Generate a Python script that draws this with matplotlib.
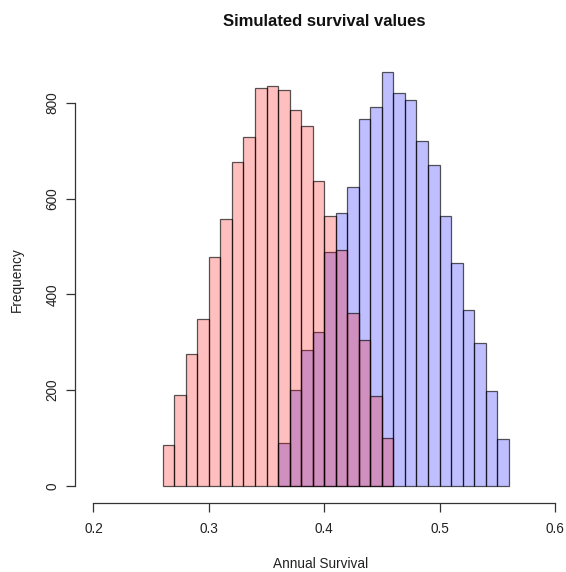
import numpy as np
import matplotlib
matplotlib.use("Agg")
import matplotlib.pyplot as plt

plt.rcParams['font.family'] = ['Liberation Sans', 'DejaVu Sans']

# bin edges (width 0.01)
red_edges = np.round(np.arange(0.26, 0.4601, 0.01), 2)
blue_edges = np.round(np.arange(0.36, 0.5601, 0.01), 2)

# counts per bin
red_counts = [85, 189, 276, 348, 478, 558, 676, 729, 831, 836,
              828, 786, 751, 637, 563, 492, 361, 305, 188, 100]
blue_counts = [89, 200, 284, 322, 489, 571, 624, 766, 792, 864,
               821, 807, 721, 671, 563, 465, 368, 299, 198, 98]

x_ticks = [0.2, 0.3, 0.4, 0.5, 0.6]
y_ticks = [0, 200, 400, 600, 800]

W, H = 566, 572
fig = plt.figure(figsize=(W / 100, H / 100), dpi=100)

# plot region in pixels (R style, axis lines on region edge)
left, right, top, bottom = 75, 573.4, 55.8, 502.5
ax = fig.add_axes([left / W, 1 - bottom / H, (right - left) / W, (bottom - top) / H])

edge = (0, 0, 0, 0.65)
ax.bar(blue_edges[:-1], blue_counts, width=0.01, align='edge',
       color=(0, 0, 1, 0.25), edgecolor=edge, linewidth=0.9)
ax.bar(red_edges[:-1], red_counts, width=0.01, align='edge',
       color=(1, 0, 0, 0.25), edgecolor=edge, linewidth=0.9)

ymax = max(max(red_counts), max(blue_counts))
ax.set_xlim(0.184, 0.616)
ax.set_ylim(-0.04 * ymax, 1.04 * ymax)

for s in ['top', 'right']:
    ax.spines[s].set_visible(False)
ax.spines['left'].set_bounds(0, 800)
ax.spines['bottom'].set_bounds(0.2, 0.6)
for s in ['left', 'bottom']:
    ax.spines[s].set_color('#333333')
    ax.spines[s].set_linewidth(0.9)

ax.set_xticks(x_ticks)
ax.set_xticklabels([str(v) for v in x_ticks])
ax.set_yticks(y_ticks)
ax.set_yticklabels([str(v) for v in y_ticks], rotation=90, va='center')
ax.tick_params(axis='both', length=6.2, width=0.9, color='#333333',
               labelsize=9.8, labelcolor='#222222')
ax.tick_params(axis='x', pad=7.5)
ax.tick_params(axis='y', pad=5)

fig.text(324.5 / W, 1 - 21 / H, 'Simulated survival values',
         ha='center', va='center', fontsize=12, fontweight='bold', color='#111111')
fig.text(321 / W, 1 - 564 / H, 'Annual Survival', ha='center', va='center',
         fontsize=9.8, color='#222222')
fig.text(17 / W, 1 - 280 / H, 'Frequency', ha='center', va='center',
         rotation=90, fontsize=9.8, color='#222222')

fig.savefig('out.png', dpi=100)
